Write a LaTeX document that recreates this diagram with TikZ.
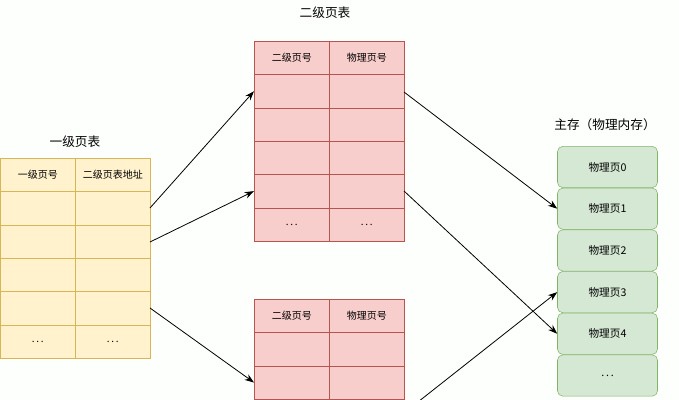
\documentclass[tikz,border=0pt]{standalone}
\usepackage{fontspec}
\setmainfont{Noto Sans CJK SC}
\usetikzlibrary{arrows.meta}
\definecolor{yfill}{HTML}{FFF2CC}\definecolor{ydraw}{HTML}{D6B656}
\definecolor{rfill}{HTML}{F8CECC}\definecolor{rdraw}{HTML}{B85450}
\definecolor{gfill}{HTML}{D5E8D4}\definecolor{gdraw}{HTML}{82B366}
\newcommand\mydots{.\,.\,.}
\begin{document}
\begin{tikzpicture}[x=0.75pt,y=-0.75pt,
  ycell/.style={draw=ydraw,fill=yfill,minimum width=56.25pt,minimum height=25pt,inner sep=0pt,font=\fontsize{7.5}{9}\selectfont,anchor=north west},
  rcell/.style={draw=rdraw,fill=rfill,minimum width=56.25pt,minimum height=25pt,inner sep=0pt,font=\fontsize{7.5}{9}\selectfont,anchor=north west},
  mem/.style={draw=gdraw,fill=gfill,rounded corners=4pt,minimum width=75pt,minimum height=31pt,inner sep=0pt,font=\fontsize{8}{10}\selectfont},
  ttl/.style={font=\fontsize{9.5}{11}\selectfont},
  arr/.style={-{Stealth[length=7pt,width=5pt]},line width=0.6pt}]
\fill[white!96!green!20] (0,0) rectangle (679,400);
\useasboundingbox (0,0) rectangle (679,400);
\begin{scope}
\clip (0,0) rectangle (679,400);
% level 1 table
\node[ttl] (t1) at (75,142) {一级页表};
\foreach \i/\a/\b in {0/一级页号/二级页表地址,1//,2//,3//,4//,5/\mydots/\mydots}{
  \node[ycell] (La\i) at (0,{158+\i*33.3}) {\a};
  \node[ycell] (Lb\i) at (75,{158+\i*33.3}) {\b};}
% level 2 top
\node[ttl] (t2) at (325,13) {二级页表};
\foreach \i/\a/\b in {0/二级页号/物理页号,1//,2//,3//,4//,5/\mydots/\mydots}{
  \node[rcell] (Ta\i) at (254,{41+\i*33.3}) {\a};
  \node[rcell] (Tb\i) at (329,{41+\i*33.3}) {\b};}
% level 2 bottom
\foreach \i/\a/\b in {0/二级页号/物理页号,1//,2//,3//}{
  \node[rcell] (Ba\i) at (254,{299+\i*33.3}) {\a};
  \node[rcell] (Bb\i) at (329,{299+\i*33.3}) {\b};}
% memory
\node[ttl] (t3) at (605,125) {主存（物理内存）};
\foreach \i/\t in {0/物理页0,1/物理页1,2/物理页2,3/物理页3,4/物理页4,5/\mydots}{
  \node[mem] (M\i) at (607.5,{167+\i*41.7}) {\t};}
\coordinate (c1) at (150,208); \coordinate (c2) at (150,242); \coordinate (c3) at (150,308);
\coordinate (d1) at (404,92); \coordinate (d2) at (404,191); \coordinate (d3) at (404,413);
\draw[arr] (c1) -- (Ta1.west);
\draw[arr] (c2) -- (Ta4.west);
\draw[arr] (c3) -- (Ba2.west);
\draw[arr] (d1) -- (M1.west);
\draw[arr] (d2) -- (M4.west);
\draw[arr] (d3) -- (M3.west);
\end{scope}
\end{tikzpicture}
\end{document}
